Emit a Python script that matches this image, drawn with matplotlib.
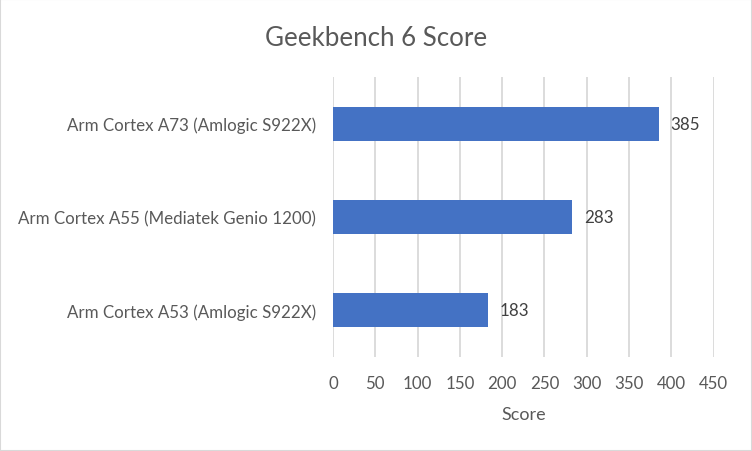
import matplotlib.pyplot as plt
from matplotlib.patches import Rectangle

categories = ["Arm Cortex A53 (Amlogic S922X)",
              "Arm Cortex A55 (Mediatek Genio 1200)",
              "Arm Cortex A73 (Amlogic S922X)"]
scores = [183, 283, 385]
x_ticks = [0, 50, 100, 150, 200, 250, 300, 350, 400, 450]

plt.rcParams['font.family'] = ['Lato', 'DejaVu Sans']

fig = plt.figure(figsize=(7.52, 4.52), dpi=100)
ax = fig.add_axes([0.4428, 0.208, 0.5062, 0.6194])

bars = ax.barh(range(len(categories)), scores, height=0.364, color="#4472C4", zorder=3)
ax.set_ylim(-0.5, len(categories) - 0.5)
ax.set_xlim(0, 450)
ax.set_xticks(x_ticks)
ax.set_yticks(range(len(categories)))
ax.set_yticklabels(categories)
ax.tick_params(axis='both', length=0, labelsize=12.2, colors="#595959")
ax.tick_params(axis='x', pad=13)
ax.tick_params(axis='y', pad=12)

ax.grid(axis='x', color="#D9D9D9", linewidth=1.3, zorder=0)
for s in ax.spines.values():
    s.set_visible(False)

for b, v in zip(bars, scores):
    ax.text(b.get_width() + 14, b.get_y() + b.get_height() / 2, str(v),
            va='center', ha='left', fontsize=12.2, color="#404040")

ax.set_xlabel("Score", fontsize=13, color="#595959", labelpad=11)
fig.text(0.5, 1 - 38 / 452, "Geekbench 6 Score", ha='center', va='center',
         fontsize=18.6, color="#595959")

fig.patches.append(Rectangle((0, 0), 1, 1, transform=fig.transFigure,
                             fill=False, edgecolor="#D9D9D9", linewidth=1.5))

fig.savefig("out.png", dpi=100)
